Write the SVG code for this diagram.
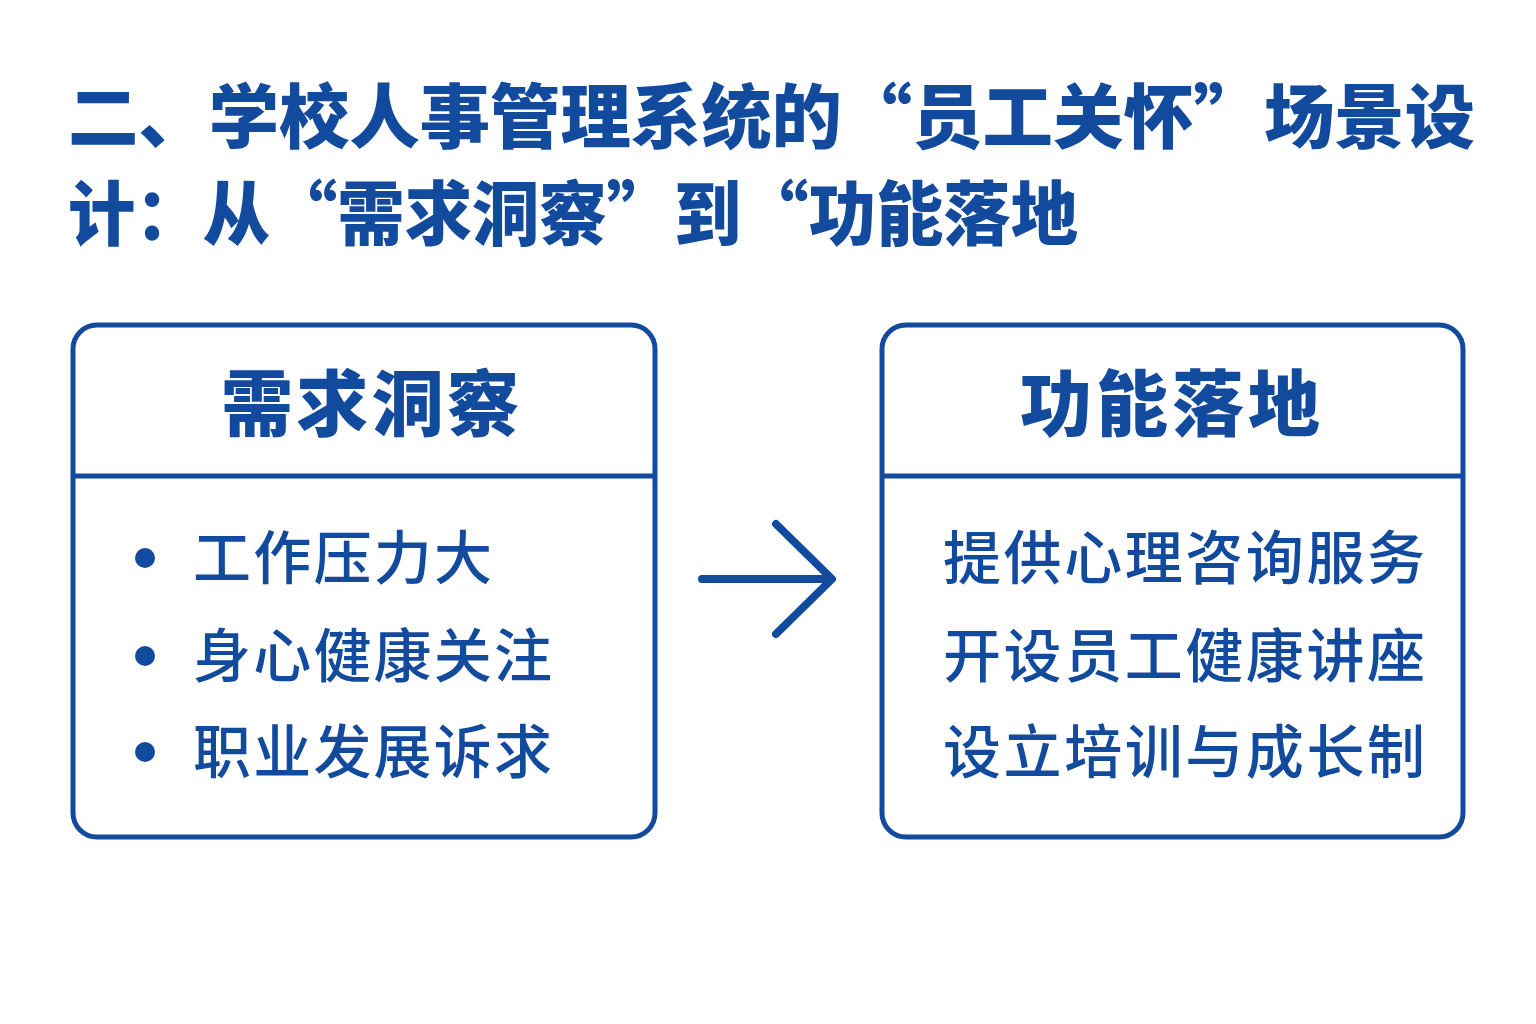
<svg xmlns="http://www.w3.org/2000/svg" width="1536" height="1024" viewBox="0 0 1536 1024">
<style>
.t{font-family:"Noto Sans CJK SC","Noto Sans",sans-serif;fill:#124a9e}
.title{font-size:70px;font-weight:900}
.head{font-size:72px;font-weight:900}
.item{font-size:58px;font-weight:500}
.box{fill:#fff;stroke:#124a9e;stroke-width:5}
</style>
<rect width="1536" height="1024" fill="#fff"/>
<text class="t title" x="68" y="143" textLength="1407" lengthAdjust="spacingAndGlyphs">二、学校人事管理系统的“员工关怀”场景设</text>
<text class="t title" x="68" y="240" textLength="1010" lengthAdjust="spacingAndGlyphs">计：从“需求洞察”到“功能落地</text>
<g id="left">
<rect class="box" x="73" y="325" width="582" height="512" rx="24"/>
<line x1="73" y1="476" x2="655" y2="476" stroke="#124a9e" stroke-width="5"/>
<text class="t head" x="370" y="430" text-anchor="middle" textLength="298">需求洞察</text>
<circle cx="145" cy="558" r="10" fill="#124a9e"/>
<circle cx="145" cy="656" r="10" fill="#124a9e"/>
<circle cx="145" cy="752" r="10" fill="#124a9e"/>
<text class="t item" x="193" y="579" textLength="299">工作压力大</text>
<text class="t item" x="193" y="677" textLength="359">身心健康关注</text>
<text class="t item" x="193" y="773" textLength="359">职业发展诉求</text>
</g>
<g id="right">
<rect class="box" x="882" y="325" width="581" height="512" rx="24"/>
<line x1="882" y1="476" x2="1463" y2="476" stroke="#124a9e" stroke-width="5"/>
<text class="t head" x="1170" y="430" text-anchor="middle" textLength="300">功能落地</text>
<text class="t item" x="943" y="579" textLength="482">提供心理咨询服务</text>
<text class="t item" x="943" y="677" textLength="482">开设员工健康讲座</text>
<text class="t item" x="943" y="773" textLength="482">设立培训与成长制</text>
</g>
<g id="connectors" fill="none" stroke="#124a9e" stroke-width="8" stroke-linecap="round" stroke-linejoin="round">
<line x1="702" y1="579" x2="830" y2="579"/>
<polyline points="776,524 832,579 776,634"/>
</g>
</svg>
